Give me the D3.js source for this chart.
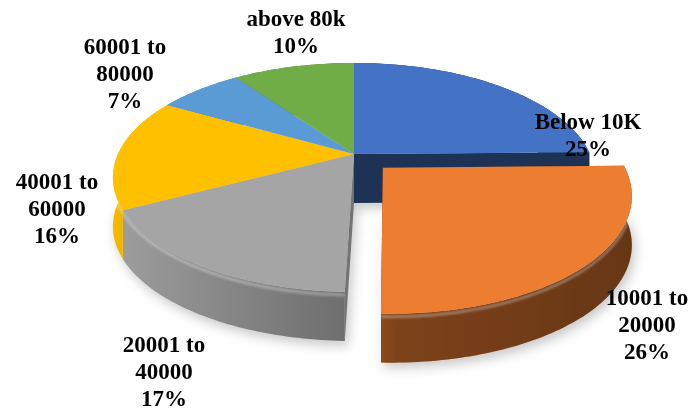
<!DOCTYPE html>
<html>
<head>
<meta charset="utf-8">
<script src="https://cdn.jsdelivr.net/npm/d3@7"></script>
<style>
  body { margin: 0; background: #fff; }
  svg { display: block; }
</style>
</head>
<body>
<div id="chart"></div>
<script>
    // slices, clockwise from 12 o'clock
    const categories = ["Below 10K", "10001 to 20000", "20001 to 40000", "40001 to 60000", "60001 to 80000", "above 80k"];
    const shares = [25, 26, 17, 16, 7, 10];
    const colors = ["#4472C4", "#ED7D31", "#A5A5A5", "#FFC000", "#5B9BD5", "#70AD47"];
    const labelLines = [["Below 10K"], ["10001 to", "20000"], ["20001 to", "40000"], ["40001 to", "60000"], ["60001 to", "80000"], ["above 80k"]];
    const exploded = 1;

    // label anchors (centre x, first baseline)
    const labelXY = [[588, 129], [647, 305], [164, 352], [57, 189], [125, 54], [296, 26]];

    const w = 693;
    const h = 410;

    // perspective disc: centre, half axes, perspective, wall height
    const cx = 354, cy = 154, ax = 236, bz = 109.7, persp = 0.205, depth = 49, pull = 0.17;

    const svg = d3.select('#chart')
        .append('svg')
        .attr('width', w)
        .attr('height', h);

    const defs = svg.append('defs');

    defs.append('filter')
        .attr('id', 'blur')
        .attr('x', '-20%').attr('y', '-20%').attr('width', '140%').attr('height', '140%')
        .append('feGaussianBlur')
        .attr('stdDeviation', 6);

    defs.append('filter')
        .attr('id', 'soft')
        .append('feGaussianBlur')
        .attr('stdDeviation', 1.2);

    const shade = defs.append('linearGradient')
        .attr('id', 'shade')
        .attr('gradientUnits', 'userSpaceOnUse')
        .attr('x1', 113).attr('x2', 640).attr('y1', 0).attr('y2', 0);
    [[0, 0], [0.48, 0.33], [0.54, 0.45], [1, 0.55]].forEach(function (s) {
        shade.append('stop')
            .attr('offset', s[0])
            .attr('stop-color', '#000')
            .attr('stop-opacity', s[1]);
    });

    const arcs = d3.pie().sort(null).value((d) => d)(shares);

    function proj(theta, r, ox, oz) {
        const x = r * Math.sin(theta) + ox;
        const z = -r * Math.cos(theta) + oz;
        const k = 1 - persp * z;
        return [cx + ax * x / k, cy + bz * z / k];
    }

    function offsetOf(i) {
        if (i !== exploded) return [0, 0];
        const mid = (arcs[i].startAngle + arcs[i].endAngle) / 2;
        return [pull * Math.sin(mid), -pull * Math.cos(mid)];
    }

    function rim(s, e, off, dy) {
        const n = Math.max(2, Math.ceil(Math.abs(e - s) / 0.02) + 1);
        return d3.range(n).map(function (j) {
            const p = proj(s + (e - s) * j / (n - 1), 1, off[0], off[1]);
            return [p[0], p[1] + dy];
        });
    }

    function apex(off, dy) {
        const p = proj(0, 0, off[0], off[1]);
        return [p[0], p[1] + dy];
    }

    const line = d3.line().curve(d3.curveLinear);
    const closed = (pts) => line(pts) + 'Z';

    function topFace(i) {
        const off = offsetOf(i);
        return closed([apex(off, 0)].concat(rim(arcs[i].startAngle, arcs[i].endAngle, off, 0)));
    }

    function outerWall(i) {
        const off = offsetOf(i);
        const s = arcs[i].startAngle, e = arcs[i].endAngle;
        return closed(rim(s, e, off, 0).concat(rim(e, s, off, depth)));
    }

    function bevel(i) {
        const off = offsetOf(i);
        const s = arcs[i].startAngle, e = arcs[i].endAngle;
        return line(rim(s, e, off, 3));
    }

    function sideWall(i, theta) {
        const off = offsetOf(i);
        const r0 = proj(theta, 1, off[0], off[1]);
        return closed([apex(off, 0), r0, [r0[0], r0[1] + depth], apex(off, depth)]);
    }

    function bottomFace(i) {
        const off = offsetOf(i);
        return closed([apex(off, depth)].concat(rim(arcs[i].startAngle, arcs[i].endAngle, off, depth)));
    }

    const order = d3.range(shares.length).filter((i) => i !== exploded);

    // soft shadow under the disc
    svg.append('g')
        .attr('filter', 'url(#blur)')
        .attr('transform', 'translate(3,5)')
        .selectAll('path')
        .data(d3.range(shares.length))
        .enter()
        .append('path')
        .attr('d', (i) => bottomFace(i))
        .attr('fill', '#000')
        .attr('opacity', 0.22);

    function drawWalls(g, idx) {
        g.append('path')
            .attr('d', outerWall(idx))
            .attr('fill', d3.color(colors[idx]).darker(0.12));
        g.append('path')
            .attr('d', outerWall(idx))
            .attr('fill', 'url(#shade)');
        g.append('path')
            .attr('d', bevel(idx))
            .attr('fill', 'none')
            .attr('stroke', '#fff')
            .attr('stroke-opacity', 0.3)
            .attr('stroke-width', 3)
            .attr('filter', 'url(#soft)');
    }

    const body = svg.append('g');

    // walls of the slices that stay in place
    order.forEach((i) => drawWalls(body, i));

    // cut faces exposed by the pulled-out slice
    const before = (exploded + shares.length - 1) % shares.length;
    const after = (exploded + 1) % shares.length;
    body.append('path')
        .attr('d', sideWall(before, arcs[before].endAngle))
        .attr('fill', d3.color(colors[before]).darker(2.3));
    body.append('path')
        .attr('d', sideWall(after, arcs[after].startAngle))
        .attr('fill', d3.color(colors[after]).darker(1));

    body.selectAll('path.top')
        .data(order)
        .enter()
        .append('path')
        .attr('class', 'top')
        .attr('d', (i) => topFace(i))
        .attr('fill', (i) => colors[i]);

    // exploded slice on top of everything
    const ex = svg.append('g');
    ex.append('path')
        .attr('d', sideWall(exploded, arcs[exploded].startAngle))
        .attr('fill', d3.color(colors[exploded]).darker(2.4));
    ex.append('path')
        .attr('d', sideWall(exploded, arcs[exploded].endAngle))
        .attr('fill', d3.color(colors[exploded]).darker(2.4));
    drawWalls(ex, exploded);
    ex.append('path')
        .attr('class', 'top')
        .attr('d', topFace(exploded))
        .attr('fill', colors[exploded]);

    // data labels
    const labels = svg.selectAll('.label')
        .data(d3.range(shares.length))
        .enter()
        .append('text')
        .attr('class', 'label')
        .attr('text-anchor', 'middle')
        .style('font-family', '"Liberation Serif", "Times New Roman", serif')
        .style('font-weight', 'bold')
        .style('font-size', '23px')
        .attr('fill', '#000');

    labels.each(function (i) {
        const t = d3.select(this);
        const lines = labelLines[i].concat([shares[i] + '%']);
        lines.forEach(function (txt, k) {
            t.append('tspan')
                .attr('x', labelXY[i][0])
                .attr('y', labelXY[i][1] + k * 27)
                .text(txt);
        });
    });
</script>
</body>
</html>
